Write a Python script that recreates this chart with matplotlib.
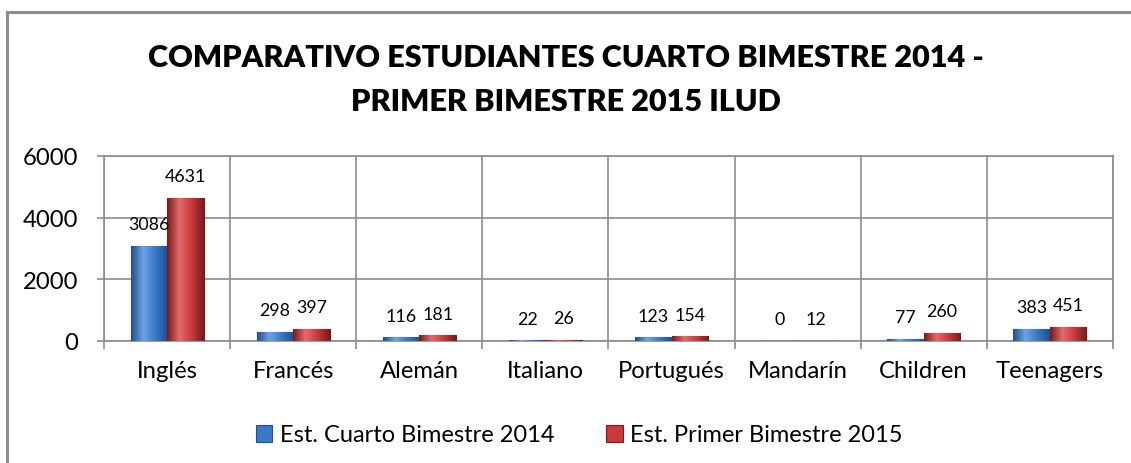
import numpy as np
import matplotlib.pyplot as plt
from matplotlib.patches import Rectangle
from matplotlib.colors import LinearSegmentedColormap

categorias = ['Inglés', 'Francés', 'Alemán', 'Italiano', 'Portugués', 'Mandarín', 'Children', 'Teenagers']
cuarto_2014 = [3086, 298, 116, 22, 123, 0, 77, 383]
primer_2015 = [4631, 397, 181, 26, 154, 12, 260, 451]
series = ['Est. Cuarto Bimestre 2014', 'Est. Primer Bimestre 2015']
titulo = 'COMPARATIVO ESTUDIANTES CUARTO BIMESTRE 2014 -\nPRIMER BIMESTRE 2015 ILUD'

plt.rcParams['font.family'] = ['Lato', 'DejaVu Sans']

fig = plt.figure(figsize=(11.31, 4.64), dpi=100)
ax = fig.add_axes([0.092, 0.263, 0.892, 0.399])
rend = fig.canvas.get_renderer()

def tam(texto, ancho_px, peso='normal'):
    # tamaño de letra para que el texto ocupe ancho_px en pantalla
    t = fig.text(0, 0, texto, fontsize=10, fontweight=peso)
    w = t.get_window_extent(renderer=rend).width
    t.remove()
    return 10 * ancho_px / w

fs_ejes = tam('Teenagers', 109)
fs_val = tam('3086', 41)
fs_leg = tam(series[0], 275)
fs_tit = tam(titulo.split('\n')[0], 840, 'heavy')

# marco exterior
fig.patches.append(Rectangle((7 / 1131, -0.1), 1.2, 1 - 13 / 464 + 0.1, transform=fig.transFigure,
                             fill=False, edgecolor='#8c8c8c', linewidth=2.2))

x = np.arange(len(categorias))
w = 0.29

def barras_degradado(pos, vals, c_osc, c_med, c_clar, etiqueta):
    cmap = LinearSegmentedColormap.from_list('g', [c_osc, c_clar, c_med, c_osc])
    bars = ax.bar(pos, vals, w, color=c_med, edgecolor=c_osc, linewidth=0.8, label=etiqueta, zorder=3)
    grad = np.linspace(0, 1, 64).reshape(1, -1)
    for b in bars:
        if b.get_height() <= 0:
            continue
        im = ax.imshow(grad, cmap=cmap, aspect='auto', zorder=3.5,
                       extent=[b.get_x(), b.get_x() + b.get_width(), 0, b.get_height()])
        im.set_clip_path(b)
    for p, v in zip(pos, vals):
        ax.annotate(str(v), (p, v), xytext=(0, 12), textcoords='offset points',
                    ha='center', va='baseline', fontsize=fs_val, zorder=5)
    return bars

barras_degradado(x - w / 2, cuarto_2014, '#1f4f8f', '#3a78c8', '#6fa3e6', series[0])
barras_degradado(x + w / 2, primer_2015, '#7a1a1c', '#c83a3c', '#e56a6a', series[1])

ax.set_xlim(-0.5, len(categorias) - 0.5)
ax.set_ylim(0, 6000)
ax.set_yticks([0, 2000, 4000, 6000])
ax.set_xticks(x)
ax.set_xticklabels(categorias)
ax.set_xticks(np.arange(-0.5, len(categorias)), minor=True)
ax.grid(axis='y', which='major', color='#8c8c8c', linewidth=1.2, zorder=0)
ax.grid(axis='x', which='minor', color='#8c8c8c', linewidth=1.2, zorder=0)
ax.tick_params(axis='x', which='major', length=0, pad=14, labelsize=fs_ejes)
ax.tick_params(axis='x', which='minor', length=6, width=1.2, color='#8c8c8c')
ax.tick_params(axis='y', length=5, width=1.2, color='#8c8c8c', pad=13.5, labelsize=fs_ejes)
for s in ax.spines.values():
    s.set_color('#8c8c8c')
    s.set_linewidth(1.2)

fig.text(0.5, 1 - 80 / 464, titulo, ha='center', va='center', fontsize=fs_tit,
         fontweight='heavy', linespacing=1.7)

fig.legend(loc='center', bbox_to_anchor=(0.512, 1 - 436 / 464), ncol=2, frameon=False, fontsize=fs_leg,
           handlelength=0.7, handleheight=0.7, handletextpad=0.3, columnspacing=2.2,
           borderpad=0, borderaxespad=0)

fig.savefig('out.png', dpi=100)
